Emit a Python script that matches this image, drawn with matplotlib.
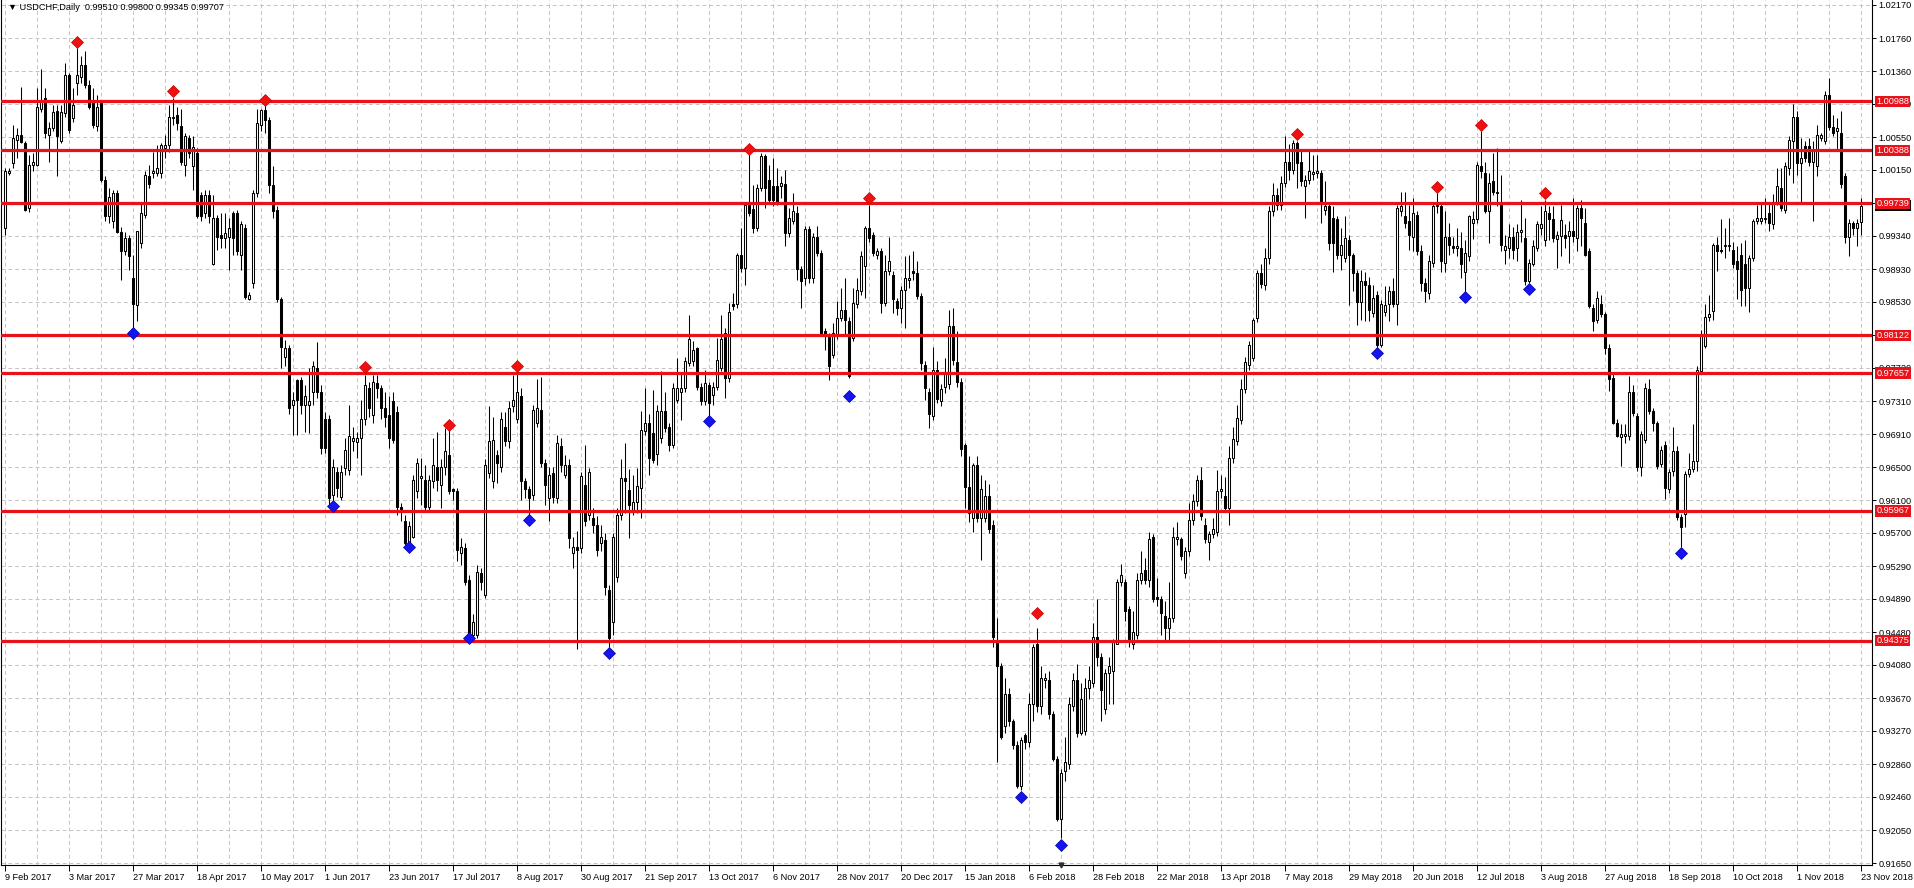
import numpy as np
import matplotlib
matplotlib.use("Agg")
import matplotlib.pyplot as plt
from matplotlib.transforms import blended_transform_factory

# USDCHF daily bars, 9 Feb 2017 .. 23 Nov 2018
opens = [
    0.9944, 1.0011, 1.0023, 1.0052, 1.0058, 1.0048, 0.9968, 1.0021, 1.0021, 1.0090,
    1.0103, 1.0058, 1.0066, 1.0087, 1.0050, 1.0084, 1.0131, 1.0078, 1.0121, 1.0129,
    1.0144, 1.0119, 1.0099, 1.0069, 1.0097, 1.0003, 0.9958, 0.9952, 0.9986, 0.9939,
    0.9915, 0.9931, 0.9882, 0.9849, 0.9925, 0.9960, 1.0007, 1.0011, 1.0011, 1.0011,
    1.0042, 1.0045, 1.0078, 1.0082, 1.0069, 1.0021, 1.0054, 1.0019, 1.0035, 0.9984,
    0.9962, 0.9984, 0.9900, 0.9956, 0.9935, 0.9931, 0.9933, 0.9962, 0.9962, 0.9911,
    0.9944, 0.9857, 0.9876, 0.9986, 1.0070, 1.0088, 1.0076, 0.9996, 0.9966, 0.9857,
    0.9786, 0.9796, 0.9727, 0.9757, 0.9757, 0.9727, 0.9727, 0.9743, 0.9772, 0.9743,
    0.9710, 0.9710, 0.9616, 0.9645, 0.9614, 0.9649, 0.9647, 0.9682, 0.9681, 0.9686,
    0.9710, 0.9747, 0.9714, 0.9753, 0.9747, 0.9723, 0.9714, 0.9731, 0.9718, 0.9602,
    0.9584, 0.9557, 0.9565, 0.9621, 0.9637, 0.9635, 0.9602, 0.9633, 0.9651, 0.9629,
    0.9651, 0.9665, 0.9623, 0.9621, 0.9545, 0.9551, 0.9512, 0.9445, 0.9445, 0.9520,
    0.9494, 0.9643, 0.9633, 0.9665, 0.9651, 0.9700, 0.9682, 0.9725, 0.9710, 0.9737,
    0.9633, 0.9623, 0.9616, 0.9704, 0.9721, 0.9655, 0.9612, 0.9643, 0.9612, 0.9676,
    0.9641, 0.9653, 0.9545, 0.9553, 0.9551, 0.9629, 0.9592, 0.9588, 0.9580, 0.9557,
    0.9561, 0.9500, 0.9461, 0.9516, 0.9592, 0.9637, 0.9622, 0.9598, 0.9608, 0.9625,
    0.9695, 0.9704, 0.9692, 0.9666, 0.9686, 0.9719, 0.9700, 0.9678, 0.9733, 0.9743,
    0.9747, 0.9778, 0.9780, 0.9796, 0.9749, 0.9731, 0.9751, 0.9739, 0.9749, 0.9772,
    0.9815, 0.9760, 0.9850, 0.9850, 0.9911, 0.9895, 0.9972, 0.9967, 0.9944, 0.9993,
    1.0032, 1.0003, 0.9995, 0.9995, 0.9995, 0.9997, 0.9937, 0.9952, 0.9962, 0.9893,
    0.9882, 0.9942, 0.9882, 0.9933, 0.9913, 0.9817, 0.9811, 0.9788, 0.9811, 0.9833,
    0.9843, 0.9830, 0.9809, 0.9850, 0.9866, 0.9897, 0.9944, 0.9935, 0.9911, 0.9915,
    0.9852, 0.9891, 0.9886, 0.9854, 0.9845, 0.9868, 0.9880, 0.9891, 0.9889, 0.9860,
    0.9776, 0.9743, 0.9713, 0.9770, 0.9732, 0.9749, 0.9752, 0.9823, 0.9779, 0.9755,
    0.9677, 0.9626, 0.9588, 0.9653, 0.9588, 0.9588, 0.9615, 0.9580, 0.9436, 0.9406,
    0.9333, 0.9372, 0.9339, 0.9310, 0.9260, 0.9322, 0.9313, 0.9360, 0.9433, 0.9357,
    0.9389, 0.9389, 0.9348, 0.9292, 0.9219, 0.9278, 0.9286, 0.9357, 0.9389, 0.9325,
    0.9327, 0.9380, 0.9386, 0.9442, 0.9418, 0.9354, 0.9398, 0.9401, 0.9433, 0.9509,
    0.9509, 0.9477, 0.9433, 0.9445, 0.9512, 0.9524, 0.9512, 0.9565, 0.9491, 0.9489,
    0.9468, 0.9453, 0.9465, 0.9562, 0.9562, 0.9521, 0.9547, 0.9585, 0.9609, 0.9635,
    0.9580, 0.9559, 0.9568, 0.9571, 0.9621, 0.9615, 0.9600, 0.9661, 0.9682, 0.9708,
    0.9746, 0.9776, 0.9784, 0.9833, 0.9888, 0.9874, 0.9907, 0.9964, 0.9984, 0.9972,
    0.9999, 1.0025, 1.0015, 1.0048, 1.0025, 0.9995, 1.0003, 1.0010, 1.0011, 1.0011,
    0.9966, 0.9970, 0.9956, 0.9954, 0.9911, 0.9907, 0.9929, 0.9911, 0.9888, 0.9853,
    0.9878, 0.9874, 0.9839, 0.9862, 0.9800, 0.9841, 0.9851, 0.9866, 0.9851, 0.9964,
    0.9958, 0.9952, 0.9933, 0.9960, 0.9915, 0.9876, 0.9864, 0.9901, 0.9970, 0.9970,
    0.9901, 0.9933, 0.9921, 0.9919, 0.9919, 0.9890, 0.9909, 0.9950, 0.9955, 1.0019,
    1.0011, 0.9964, 1.0001, 0.9986, 0.9972, 0.9917, 0.9919, 0.9933, 0.9919, 0.9939,
    0.9931, 0.9878, 0.9899, 0.9919, 0.9943, 0.9929, 0.9962, 0.9954, 0.9930, 0.9934,
    0.9935, 0.9934, 0.9940, 0.9931, 0.9968, 0.9950, 0.9915, 0.9846, 0.9831, 0.9850,
    0.9838, 0.9797, 0.9760, 0.9705, 0.9687, 0.9689, 0.9689, 0.9742, 0.9713, 0.9650,
    0.9684, 0.9746, 0.9719, 0.9705, 0.9654, 0.9678, 0.9623, 0.9646, 0.9670, 0.9589,
    0.9593, 0.9642, 0.9648, 0.9658, 0.9768, 0.9799, 0.9834, 0.9842, 0.9923, 0.9917,
    0.9921, 0.9921, 0.9917, 0.9903, 0.9911, 0.9899, 0.9870, 0.9907, 0.9952, 0.9952,
    0.9954, 0.9962, 0.9948, 0.9976, 0.9993, 0.9966, 1.0017, 1.0050, 1.0080, 1.0023,
    1.0044, 1.0044, 1.0025, 1.0019, 1.0054, 1.0050, 1.0107, 1.0068, 1.0062, 1.0060,
    1.0007, 0.9933, 0.9950, 0.9944, 0.99510,
]
highs = [
    1.0017, 1.0017, 1.0070, 1.0066, 1.0117, 1.0050, 1.0033, 1.0035, 1.0115, 1.0139,
    1.0115, 1.0074, 1.0094, 1.0094, 1.0094, 1.0146, 1.0133, 1.0115, 1.0164, 1.0154,
    1.0160, 1.0125, 1.0115, 1.0107, 1.0099, 1.0007, 0.9992, 0.9990, 0.9990, 0.9945,
    0.9939, 0.9935, 0.9911, 0.9940, 0.9974, 1.0013, 1.0021, 1.0037, 1.0045, 1.0048,
    1.0058, 1.0094, 1.0103, 1.0092, 1.0090, 1.0060, 1.0058, 1.0056, 1.0042, 0.9988,
    0.9990, 0.9990, 0.9984, 0.9960, 0.9962, 0.9962, 0.9956, 0.9964, 0.9966, 0.9952,
    0.9948, 0.9865, 0.9990, 1.0090, 1.0090, 1.0097, 1.0080, 1.0019, 0.9970, 0.9859,
    0.9806, 0.9800, 0.9743, 0.9759, 0.9761, 0.9751, 0.9772, 0.9780, 0.9804, 0.9751,
    0.9718, 0.9714, 0.9660, 0.9651, 0.9653, 0.9686, 0.9727, 0.9700, 0.9694, 0.9733,
    0.9763, 0.9755, 0.9763, 0.9763, 0.9751, 0.9743, 0.9737, 0.9743, 0.9725, 0.9606,
    0.9592, 0.9584, 0.9641, 0.9662, 0.9662, 0.9653, 0.9641, 0.9686, 0.9694, 0.9660,
    0.9698, 0.9696, 0.9625, 0.9625, 0.9563, 0.9557, 0.9518, 0.9470, 0.9530, 0.9527,
    0.9660, 0.9725, 0.9712, 0.9672, 0.9718, 0.9718, 0.9731, 0.9763, 0.9767, 0.9747,
    0.9637, 0.9627, 0.9727, 0.9759, 0.9761, 0.9660, 0.9650, 0.9650, 0.9690, 0.9686,
    0.9665, 0.9660, 0.9565, 0.9572, 0.9645, 0.9678, 0.9649, 0.9600, 0.9590, 0.9580,
    0.9570, 0.9506, 0.9570, 0.9600, 0.9660, 0.9680, 0.9648, 0.9641, 0.9649, 0.9719,
    0.9747, 0.9716, 0.9745, 0.9727, 0.9768, 0.9743, 0.9704, 0.9753, 0.9784, 0.9764,
    0.9786, 0.9837, 0.9805, 0.9798, 0.9753, 0.9770, 0.9755, 0.9755, 0.9809, 0.9837,
    0.9821, 0.9852, 0.9864, 0.9913, 0.9944, 0.9976, 1.0034, 0.9996, 0.9997, 1.0036,
    1.0034, 1.0021, 1.0030, 1.0017, 1.0007, 1.0015, 0.9968, 0.9987, 0.9970, 0.9897,
    0.9946, 0.9946, 0.9937, 0.9946, 0.9917, 0.9821, 0.9815, 0.9827, 0.9854, 0.9870,
    0.9882, 0.9835, 0.9870, 0.9882, 0.9915, 0.9946, 0.9972, 0.9939, 0.9919, 0.9919,
    0.9911, 0.9933, 0.9891, 0.9858, 0.9872, 0.9909, 0.9911, 0.9915, 0.9903, 0.9864,
    0.9780, 0.9747, 0.9798, 0.9781, 0.9752, 0.9784, 0.9843, 0.9846, 0.9817, 0.9760,
    0.9680, 0.9664, 0.9656, 0.9664, 0.9641, 0.9635, 0.9630, 0.9585, 0.9465, 0.9410,
    0.9392, 0.9380, 0.9342, 0.9315, 0.9320, 0.9325, 0.9374, 0.9433, 0.9453, 0.9406,
    0.9398, 0.9401, 0.9352, 0.9296, 0.9280, 0.9319, 0.9368, 0.9398, 0.9409, 0.9386,
    0.9392, 0.9406, 0.9459, 0.9489, 0.9422, 0.9403, 0.9418, 0.9440, 0.9513, 0.9532,
    0.9513, 0.9480, 0.9474, 0.9521, 0.9548, 0.9539, 0.9571, 0.9568, 0.9515, 0.9493,
    0.9486, 0.9509, 0.9577, 0.9583, 0.9565, 0.9552, 0.9606, 0.9618, 0.9641, 0.9650,
    0.9588, 0.9572, 0.9588, 0.9647, 0.9641, 0.9638, 0.9676, 0.9700, 0.9726, 0.9758,
    0.9786, 0.9805, 0.9833, 0.9892, 0.9900, 0.9919, 0.9970, 0.9999, 0.9992, 1.0007,
    1.0056, 1.0046, 1.0051, 1.0050, 1.0038, 1.0008, 1.0038, 1.0033, 1.0033, 1.0015,
    1.0001, 0.9974, 0.9970, 0.9958, 0.9943, 0.9958, 0.9935, 0.9913, 0.9892, 0.9892,
    0.9890, 0.9884, 0.9874, 0.9866, 0.9855, 0.9872, 0.9872, 0.9882, 0.9972, 0.9988,
    0.9988, 0.9972, 0.9980, 0.9964, 0.9923, 0.9882, 0.9911, 0.9974, 0.9987, 0.9976,
    0.9964, 0.9950, 0.9933, 0.9943, 0.9939, 0.9929, 0.9960, 0.9965, 1.0025, 1.0062,
    1.0025, 1.0011, 1.0035, 1.0042, 1.0009, 0.9935, 0.9948, 0.9945, 0.9948, 0.9978,
    0.9956, 0.9905, 0.9929, 0.9952, 0.9970, 0.9978, 0.9970, 0.9970, 0.9940, 0.9972,
    0.9948, 0.9952, 0.9980, 0.9972, 0.9978, 0.9968, 0.9919, 0.9850, 0.9866, 0.9862,
    0.9840, 0.9801, 0.9764, 0.9709, 0.9703, 0.9703, 0.9762, 0.9751, 0.9717, 0.9695,
    0.9754, 0.9758, 0.9723, 0.9707, 0.9676, 0.9682, 0.9648, 0.9699, 0.9676, 0.9593,
    0.9646, 0.9668, 0.9703, 0.9774, 0.9819, 0.9850, 0.9862, 0.9925, 0.9933, 0.9954,
    0.9944, 0.9956, 0.9927, 0.9921, 0.9925, 0.9929, 0.9911, 0.9954, 0.9972, 0.9976,
    0.9980, 0.9976, 0.9985, 1.0017, 1.0017, 1.0025, 1.0056, 1.0095, 1.0087, 1.0054,
    1.0050, 1.0054, 1.0050, 1.0070, 1.0060, 1.0111, 1.0127, 1.0082, 1.0078, 1.0087,
    1.0011, 0.9954, 0.9952, 0.9954, 0.99800,
]
lows = [
    0.9935, 1.0009, 1.0017, 1.0029, 1.0048, 0.9964, 0.9963, 1.0013, 1.0019, 1.0086,
    1.0054, 1.0025, 1.0062, 1.0007, 1.0048, 1.0080, 1.0060, 1.0074, 1.0107, 1.0121,
    1.0115, 1.0090, 1.0066, 1.0062, 1.0000, 0.9952, 0.9950, 0.9944, 0.9937, 0.9880,
    0.9911, 0.9892, 0.9818, 0.9829, 0.9919, 0.9956, 0.9992, 1.0005, 1.0007, 1.0005,
    1.0029, 1.0037, 1.0070, 1.0064, 1.0021, 1.0007, 1.0029, 0.9990, 0.9956, 0.9952,
    0.9956, 0.9950, 0.9898, 0.9917, 0.9919, 0.9919, 0.9892, 0.9911, 0.9911, 0.9892,
    0.9857, 0.9855, 0.9870, 0.9982, 1.0062, 1.0060, 0.9986, 0.9956, 0.9853, 0.9772,
    0.9774, 0.9715, 0.9690, 0.9690, 0.9715, 0.9694, 0.9692, 0.9727, 0.9735, 0.9667,
    0.9668, 0.9604, 0.9608, 0.9614, 0.9610, 0.9641, 0.9641, 0.9670, 0.9662, 0.9641,
    0.9702, 0.9712, 0.9704, 0.9735, 0.9710, 0.9700, 0.9674, 0.9680, 0.9592, 0.9584,
    0.9555, 0.9553, 0.9563, 0.9612, 0.9604, 0.9598, 0.9596, 0.9625, 0.9621, 0.9600,
    0.9641, 0.9617, 0.9610, 0.9535, 0.9530, 0.9506, 0.9441, 0.9438, 0.9441, 0.9500,
    0.9490, 0.9637, 0.9625, 0.9631, 0.9645, 0.9676, 0.9674, 0.9718, 0.9704, 0.9610,
    0.9612, 0.9592, 0.9610, 0.9700, 0.9650, 0.9604, 0.9584, 0.9606, 0.9606, 0.9645,
    0.9637, 0.9551, 0.9527, 0.9427, 0.9545, 0.9578, 0.9586, 0.9570, 0.9541, 0.9547,
    0.9494, 0.9430, 0.9445, 0.9510, 0.9586, 0.9594, 0.9563, 0.9592, 0.9594, 0.9588,
    0.9690, 0.9641, 0.9655, 0.9653, 0.9680, 0.9694, 0.9670, 0.9674, 0.9729, 0.9708,
    0.9743, 0.9774, 0.9774, 0.9745, 0.9727, 0.9727, 0.9713, 0.9727, 0.9745, 0.9768,
    0.9735, 0.9755, 0.9843, 0.9845, 0.9890, 0.9874, 0.9958, 0.9937, 0.9940, 0.9989,
    0.9968, 0.9975, 0.9970, 0.9972, 0.9980, 0.9921, 0.9933, 0.9948, 0.9880, 0.9845,
    0.9874, 0.9876, 0.9876, 0.9909, 0.9813, 0.9794, 0.9757, 0.9784, 0.9807, 0.9829,
    0.9813, 0.9760, 0.9805, 0.9846, 0.9862, 0.9858, 0.9927, 0.9909, 0.9905, 0.9839,
    0.9848, 0.9886, 0.9839, 0.9837, 0.9827, 0.9821, 0.9870, 0.9880, 0.9856, 0.9770,
    0.9733, 0.9698, 0.9708, 0.9729, 0.9725, 0.9741, 0.9746, 0.9776, 0.9749, 0.9664,
    0.9600, 0.9583, 0.9571, 0.9583, 0.9536, 0.9583, 0.9570, 0.9430, 0.9289, 0.9317,
    0.9325, 0.9333, 0.9305, 0.9257, 0.9254, 0.9305, 0.9307, 0.9339, 0.9350, 0.9348,
    0.9380, 0.9342, 0.9290, 0.9216, 0.9196, 0.9266, 0.9280, 0.9352, 0.9320, 0.9322,
    0.9322, 0.9366, 0.9381, 0.9406, 0.9339, 0.9348, 0.9360, 0.9360, 0.9433, 0.9505,
    0.9462, 0.9430, 0.9428, 0.9440, 0.9507, 0.9507, 0.9503, 0.9485, 0.9480, 0.9445,
    0.9436, 0.9436, 0.9460, 0.9555, 0.9536, 0.9515, 0.9542, 0.9580, 0.9603, 0.9585,
    0.9557, 0.9536, 0.9563, 0.9566, 0.9612, 0.9595, 0.9580, 0.9655, 0.9677, 0.9703,
    0.9741, 0.9770, 0.9780, 0.9828, 0.9870, 0.9868, 0.9899, 0.9958, 0.9966, 0.9966,
    0.9994, 1.0003, 1.0010, 0.9993, 0.9995, 0.9956, 0.9998, 1.0003, 1.0005, 0.9950,
    0.9960, 0.9917, 0.9890, 0.9905, 0.9892, 0.9902, 0.9849, 0.9866, 0.9825, 0.9831,
    0.9829, 0.9829, 0.9834, 0.9792, 0.9798, 0.9836, 0.9829, 0.9847, 0.9825, 0.9958,
    0.9943, 0.9917, 0.9915, 0.9910, 0.9866, 0.9853, 0.9856, 0.9896, 0.9962, 0.9890,
    0.9890, 0.9911, 0.9913, 0.9909, 0.9882, 0.9858, 0.9903, 0.9930, 0.9950, 1.0005,
    0.9962, 0.9925, 0.9984, 0.9970, 0.9915, 0.9900, 0.9907, 0.9905, 0.9903, 0.9927,
    0.9874, 0.9876, 0.9897, 0.9915, 0.9935, 0.9921, 0.9929, 0.9927, 0.9895, 0.9909,
    0.9919, 0.9901, 0.9927, 0.9915, 0.9921, 0.9909, 0.9846, 0.9817, 0.9827, 0.9834,
    0.9789, 0.9744, 0.9703, 0.9687, 0.9652, 0.9680, 0.9684, 0.9713, 0.9646, 0.9640,
    0.9680, 0.9715, 0.9695, 0.9648, 0.9650, 0.9611, 0.9619, 0.9640, 0.9585, 0.9552,
    0.9577, 0.9638, 0.9644, 0.9646, 0.9764, 0.9797, 0.9830, 0.9831, 0.9891, 0.9913,
    0.9907, 0.9915, 0.9895, 0.9856, 0.9848, 0.9848, 0.9840, 0.9903, 0.9948, 0.9948,
    0.9950, 0.9940, 0.9942, 0.9972, 0.9964, 0.9962, 1.0009, 0.9999, 1.0009, 0.9976,
    1.0025, 1.0020, 0.9952, 1.0007, 1.0050, 1.0046, 1.0064, 1.0056, 1.0038, 0.9993,
    0.9925, 0.9909, 0.9935, 0.9921, 0.99345,
]
closes = [
    1.0013, 1.0013, 1.0054, 1.0058, 1.0049, 0.9966, 1.0021, 1.0025, 1.0092, 1.0101,
    1.0060, 1.0066, 1.0086, 1.0056, 1.0086, 1.0131, 1.0064, 1.0094, 1.0131, 1.0144,
    1.0119, 1.0092, 1.0070, 1.0092, 1.0003, 0.9958, 0.9982, 0.9986, 0.9939, 0.9915,
    0.9931, 0.9909, 0.9851, 0.9940, 0.9962, 1.0009, 0.9998, 1.0013, 1.0017, 1.0045,
    1.0045, 1.0080, 1.0080, 1.0072, 1.0025, 1.0056, 1.0035, 1.0043, 0.9958, 0.9958,
    0.9984, 0.9958, 0.9956, 0.9933, 0.9931, 0.9937, 0.9944, 0.9931, 0.9915, 0.9948,
    0.9859, 0.9861, 0.9986, 1.0072, 1.0088, 1.0076, 0.9996, 0.9964, 0.9857, 0.9798,
    0.9796, 0.9723, 0.9733, 0.9733, 0.9727, 0.9737, 0.9731, 0.9774, 0.9743, 0.9674,
    0.9674, 0.9612, 0.9651, 0.9625, 0.9645, 0.9672, 0.9689, 0.9686, 0.9686, 0.9710,
    0.9751, 0.9723, 0.9755, 0.9747, 0.9723, 0.9712, 0.9686, 0.9684, 0.9602, 0.9598,
    0.9557, 0.9578, 0.9635, 0.9655, 0.9639, 0.9602, 0.9635, 0.9653, 0.9635, 0.9651,
    0.9670, 0.9621, 0.9621, 0.9549, 0.9553, 0.9510, 0.9445, 0.9461, 0.9522, 0.9510,
    0.9653, 0.9682, 0.9684, 0.9655, 0.9710, 0.9682, 0.9723, 0.9733, 0.9743, 0.9633,
    0.9623, 0.9612, 0.9721, 0.9723, 0.9655, 0.9629, 0.9641, 0.9614, 0.9680, 0.9653,
    0.9653, 0.9563, 0.9553, 0.9549, 0.9639, 0.9584, 0.9645, 0.9580, 0.9549, 0.9565,
    0.9504, 0.9441, 0.9565, 0.9592, 0.9637, 0.9633, 0.9604, 0.9608, 0.9627, 0.9696,
    0.9704, 0.9661, 0.9659, 0.9719, 0.9719, 0.9698, 0.9678, 0.9747, 0.9747, 0.9747,
    0.9780, 0.9807, 0.9794, 0.9749, 0.9731, 0.9753, 0.9729, 0.9749, 0.9782, 0.9807,
    0.9760, 0.9841, 0.9848, 0.9911, 0.9895, 0.9972, 0.9962, 0.9943, 0.9993, 1.0032,
    0.9993, 0.9978, 0.9978, 0.9976, 0.9999, 0.9937, 0.9956, 0.9964, 0.9893, 0.9878,
    0.9942, 0.9882, 0.9933, 0.9913, 0.9815, 0.9813, 0.9774, 0.9815, 0.9833, 0.9843,
    0.9831, 0.9762, 0.9852, 0.9868, 0.9909, 0.9944, 0.9931, 0.9913, 0.9915, 0.9852,
    0.9891, 0.9903, 0.9856, 0.9845, 0.9868, 0.9882, 0.9882, 0.9889, 0.9860, 0.9778,
    0.9747, 0.9715, 0.9770, 0.9734, 0.9746, 0.9767, 0.9823, 0.9782, 0.9755, 0.9673,
    0.9626, 0.9594, 0.9653, 0.9588, 0.9623, 0.9615, 0.9574, 0.9442, 0.9406, 0.9319,
    0.9372, 0.9339, 0.9310, 0.9260, 0.9316, 0.9313, 0.9360, 0.9430, 0.9357, 0.9392,
    0.9392, 0.9348, 0.9292, 0.9219, 0.9275, 0.9289, 0.9360, 0.9389, 0.9325, 0.9366,
    0.9380, 0.9389, 0.9442, 0.9418, 0.9377, 0.9398, 0.9406, 0.9436, 0.9509, 0.9518,
    0.9474, 0.9436, 0.9448, 0.9512, 0.9521, 0.9512, 0.9562, 0.9489, 0.9489, 0.9471,
    0.9453, 0.9465, 0.9565, 0.9565, 0.9541, 0.9547, 0.9585, 0.9609, 0.9635, 0.9591,
    0.9562, 0.9568, 0.9574, 0.9621, 0.9623, 0.9600, 0.9661, 0.9685, 0.9711, 0.9746,
    0.9779, 0.9800, 0.9831, 0.9888, 0.9875, 0.9907, 0.9964, 0.9984, 0.9972, 0.9999,
    1.0025, 1.0015, 1.0048, 1.0023, 1.0001, 1.0003, 1.0013, 1.0012, 1.0013, 0.9976,
    0.9970, 0.9925, 0.9925, 0.9911, 0.9923, 0.9931, 0.9911, 0.9888, 0.9853, 0.9878,
    0.9874, 0.9843, 0.9858, 0.9800, 0.9851, 0.9849, 0.9866, 0.9851, 0.9968, 0.9970,
    0.9950, 0.9935, 0.9962, 0.9915, 0.9876, 0.9866, 0.9903, 0.9970, 0.9972, 0.9903,
    0.9933, 0.9923, 0.9919, 0.9921, 0.9899, 0.9913, 0.9958, 0.9955, 1.0021, 1.0013,
    0.9964, 0.9999, 0.9988, 0.9988, 0.9923, 0.9921, 0.9933, 0.9917, 0.9939, 0.9941,
    0.9878, 0.9901, 0.9921, 0.9948, 0.9948, 0.9964, 0.9954, 0.9931, 0.9935, 0.9953,
    0.9931, 0.9940, 0.9934, 0.9968, 0.9956, 0.9911, 0.9848, 0.9829, 0.9858, 0.9838,
    0.9797, 0.9758, 0.9705, 0.9689, 0.9691, 0.9691, 0.9742, 0.9717, 0.9650, 0.9691,
    0.9748, 0.9719, 0.9705, 0.9652, 0.9672, 0.9625, 0.9644, 0.9670, 0.9589, 0.9577,
    0.9642, 0.9648, 0.9658, 0.9770, 0.9813, 0.9835, 0.9838, 0.9923, 0.9915, 0.9915,
    0.9923, 0.9923, 0.9899, 0.9893, 0.9868, 0.9870, 0.9907, 0.9952, 0.9956, 0.9956,
    0.9956, 0.9950, 0.9976, 0.9995, 0.9968, 1.0019, 1.0052, 1.0080, 1.0023, 1.0029,
    1.0029, 1.0025, 1.0038, 1.0058, 1.0058, 1.0107, 1.0068, 1.0060, 1.0066, 0.9997,
    0.9933, 0.9950, 0.9944, 0.9950, 0.99707,
]

# support / resistance levels
levels = [1.00988, 1.00388, 0.99739, 0.98122, 0.97657, 0.95967, 0.94375]

# fractal markers (bar index, marker price)
red_idx = [18, 42, 65, 90, 111, 128, 186, 216, 258, 323, 358, 369, 385]
red_px = [1.0172, 1.0111, 1.0101, 0.9773, 0.9702, 0.9774, 1.0040, 0.9980,
          0.9472, 1.0059, 0.9994, 1.0070, 0.9986]
blue_idx = [32, 82, 101, 116, 131, 151, 176, 211, 254, 264, 343, 365, 381, 419]
blue_px = [0.9815, 0.9603, 0.9553, 0.9441, 0.9586, 0.9422, 0.9707, 0.9737,
           0.9246, 0.9187, 0.9790, 0.9859, 0.9869, 0.9545]

price_ticks = [1.02170, 1.01760, 1.01360, 1.00960, 1.00550, 1.00150, 0.99740,
               0.99340, 0.98930, 0.98530, 0.98120, 0.97720, 0.97310, 0.96910,
               0.96500, 0.96100, 0.95700, 0.95290, 0.94890, 0.94480, 0.94080,
               0.93670, 0.93270, 0.92860, 0.92460, 0.92050, 0.91650]

date_labels = ["9 Feb 2017", "3 Mar 2017", "27 Mar 2017", "18 Apr 2017",
               "10 May 2017", "1 Jun 2017", "23 Jun 2017", "17 Jul 2017",
               "8 Aug 2017", "30 Aug 2017", "21 Sep 2017", "13 Oct 2017",
               "6 Nov 2017", "28 Nov 2017", "20 Dec 2017", "15 Jan 2018",
               "6 Feb 2018", "28 Feb 2018", "22 Mar 2018", "13 Apr 2018",
               "7 May 2018", "29 May 2018", "20 Jun 2018", "12 Jul 2018",
               "3 Aug 2018", "27 Aug 2018", "18 Sep 2018", "10 Oct 2018",
               "1 Nov 2018", "23 Nov 2018"]

plt.rcParams['font.family'] = ['Liberation Sans', 'DejaVu Sans']
plt.rcParams['font.size'] = 6.6

RED = '#e8121a'
W, H = 1915, 888
fig = plt.figure(figsize=(W / 100, H / 100), dpi=100)
fig.patch.set_facecolor('white')
ax = fig.add_axes([1 / W, 23 / H, 1871 / W, 865 / H])

n = len(opens)
x = np.arange(n)
o = np.array(opens)
h = np.array(highs)
l = np.array(lows)
c = np.array(closes)

# grid
for gx in range(0, n, 8):
    ax.axvline(gx, color='#c4c4c4', lw=0.7, ls=(0, (4, 3)), zorder=0)
for gy in price_ticks:
    ax.axhline(gy, color='#c4c4c4', lw=0.7, ls=(0, (4, 3)), zorder=0)

# candles
ax.vlines(x, l, h, color='black', lw=0.75, zorder=2)
up = c >= o
lo = np.minimum(o, c)
ht = np.abs(c - o)
ax.bar(x[up], ht[up], bottom=lo[up], width=0.5, color='white',
       edgecolor='black', linewidth=0.75, zorder=3)
ax.bar(x[~up], ht[~up], bottom=lo[~up], width=0.5, color='black',
       edgecolor='black', linewidth=0.75, zorder=3)

# levels
for lv in levels:
    ax.axhline(lv, color=RED, lw=2.3, zorder=5)

# fractals
ax.plot(red_idx, red_px, 'D', color='#ee1111', ms=6.2, mec='#cc0000',
        mew=0.5, zorder=6, clip_on=False)
ax.plot(blue_idx, blue_px, 'D', color='#1414f0', ms=6.2, mec='#0000b0',
        mew=0.5, zorder=6, clip_on=False)

ax.set_xlim(-1.083, 466.67)
ax.set_ylim(0.91626, 1.02231)

# axes styling
for s in ['left', 'right', 'bottom']:
    ax.spines[s].set_color('black')
    ax.spines[s].set_linewidth(0.8)
ax.spines['top'].set_visible(False)

ax.yaxis.tick_right()
ax.set_yticks(price_ticks)
ax.set_yticklabels([f'{v:.5f}' for v in price_ticks])
ax.tick_params(axis='y', length=3, width=0.7, pad=1.5, labelsize=6.6)

ax.set_xticks(range(0, n, 16))
ax.set_xticklabels(date_labels)
for lbl in ax.get_xticklabels():
    lbl.set_ha('left')
ax.tick_params(axis='x', length=4, width=0.7, pad=1.5, labelsize=6.6)

# price scale labels
tr = blended_transform_factory(ax.transAxes, ax.transData)
ax.text(1.0024, closes[-1], f'{closes[-1]:.5f}', transform=tr, ha='left',
        va='center', color='white', fontsize=6.6, zorder=9, clip_on=False,
        bbox=dict(boxstyle='square,pad=0.12', fc='black', ec='none'))
for lv in levels:
    ax.text(1.0024, lv, f'{lv:.5f}', transform=tr, ha='left', va='center',
            color='white', fontsize=6.6, zorder=10, clip_on=False,
            bbox=dict(boxstyle='square,pad=0.12', fc=RED, ec='none'))

# small marker at the bottom edge
ax.plot([264], [0.0], 'v', color='#303030', ms=3.5, zorder=8, clip_on=False,
        transform=blended_transform_factory(ax.transData, ax.transAxes))

# header
header = (f'\u25bc USDCHF,Daily  {opens[-1]:.5f} {highs[-1]:.5f} '
          f'{lows[-1]:.5f} {closes[-1]:.5f}')
fig.text(8 / W, 1 - 8 / H, header, ha='left', va='center', fontsize=6.6)

fig.savefig('out.png', dpi=100)
